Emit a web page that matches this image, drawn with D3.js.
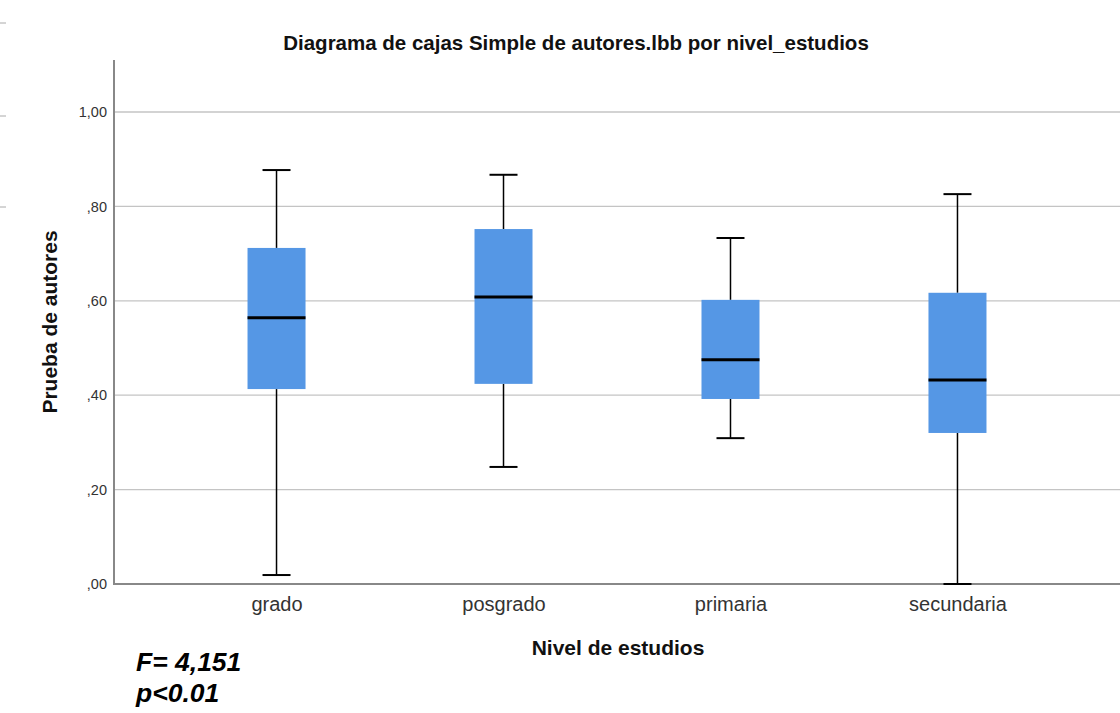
<!DOCTYPE html>
<html><head><meta charset="utf-8">
<script src="https://cdn.jsdelivr.net/npm/d3@7"></script>
<style>body{margin:0;background:#fff;}svg{display:block;font-family:"Liberation Sans",Arial,sans-serif;}</style>
</head><body>
<svg id="c" width="1120" height="713"></svg>
<script>
const categories = ["grado","posgrado","primaria","secundaria"];
const whiskerLow  = [0.019, 0.248, 0.309, 0.000];
const q1          = [0.413, 0.424, 0.392, 0.320];
const median      = [0.564, 0.608, 0.475, 0.432];
const q3          = [0.712, 0.752, 0.602, 0.617];
const whiskerHigh = [0.877, 0.867, 0.733, 0.826];
const yTicks = [0, 0.2, 0.4, 0.6, 0.8, 1.0];
const yTickLabels = [",00", ",20", ",40", ",60", ",80", "1,00"];

const svg = d3.select("#c");
const x0 = 114, x1 = 1120, yTop = 60, yBot = 584;
const y = d3.scaleLinear().domain([0, 1]).range([584, 112]);
const x = d3.scalePoint().domain(categories).range([x0, x1]).padding(0.716);

// stray left marks
[23,116,207].forEach(v => svg.append("line").attr("x1",0).attr("x2",6).attr("y1",v).attr("y2",v).attr("stroke","#aaa").attr("stroke-width",1));

// gridlines
svg.append("g").selectAll("line").data(yTicks.filter(d => d > 0)).join("line")
  .attr("x1", x0).attr("x2", x1).attr("y1", d => y(d)).attr("y2", d => y(d))
  .attr("stroke", "#c4c4c4").attr("stroke-width", 1.3);

// y axis
const yAxis = d3.axisLeft(y).tickValues(yTicks).tickFormat((d,i) => yTickLabels[i]).tickSize(0).tickPadding(7);
const gy = svg.append("g").attr("transform", `translate(${x0},0)`).call(yAxis);
gy.select(".domain").remove();
gy.selectAll("text").attr("font-size", 14.5).attr("fill", "#333").attr("font-family","\"Liberation Sans\",Arial,sans-serif");
svg.append("line").attr("x1", x0).attr("x2", x0).attr("y1", yTop).attr("y2", yBot).attr("stroke", "#888").attr("stroke-width", 2);

// x axis
const xAxis = d3.axisBottom(x).tickSize(0).tickPadding(13);
const gx = svg.append("g").attr("transform", `translate(0,${yBot})`).call(xAxis);
gx.select(".domain").remove();
gx.selectAll("text").attr("font-size", 20).attr("fill", "#333").attr("font-family","\"Liberation Sans\",Arial,sans-serif");
svg.append("line").attr("x1", x0 - 1).attr("x2", x1).attr("y1", yBot).attr("y2", yBot).attr("stroke", "#888").attr("stroke-width", 2);

// boxes
const boxW = 58, capW = 28;
const g = svg.append("g");
categories.forEach((c, i) => {
  const cx = x(c);
  g.append("line").attr("x1", cx).attr("x2", cx).attr("y1", y(whiskerHigh[i])).attr("y2", y(q3[i])).attr("stroke", "#000").attr("stroke-width", 1.5);
  g.append("line").attr("x1", cx).attr("x2", cx).attr("y1", y(q1[i])).attr("y2", y(whiskerLow[i])).attr("stroke", "#000").attr("stroke-width", 1.5);
  g.append("line").attr("x1", cx - capW/2).attr("x2", cx + capW/2).attr("y1", y(whiskerHigh[i])).attr("y2", y(whiskerHigh[i])).attr("stroke", "#000").attr("stroke-width", 2);
  g.append("line").attr("x1", cx - capW/2).attr("x2", cx + capW/2).attr("y1", y(whiskerLow[i])).attr("y2", y(whiskerLow[i])).attr("stroke", "#000").attr("stroke-width", 2);
  g.append("rect").attr("x", cx - boxW/2).attr("width", boxW).attr("y", y(q3[i])).attr("height", y(q1[i]) - y(q3[i])).attr("fill", "#5597e5");
  g.append("line").attr("x1", cx - boxW/2).attr("x2", cx + boxW/2).attr("y1", y(median[i])).attr("y2", y(median[i])).attr("stroke", "#000").attr("stroke-width", 3);
});

// titles
svg.append("text").attr("x", 576).attr("y", 50).attr("text-anchor", "middle").attr("font-size", 20.5).attr("font-weight", "bold").attr("fill", "#111")
  .text("Diagrama de cajas Simple de autores.lbb por nivel_estudios");
svg.append("text").attr("transform", "translate(57,322) rotate(-90)").attr("text-anchor", "middle").attr("font-size", 21).attr("font-weight", "bold").attr("fill", "#111")
  .text("Prueba de autores");
svg.append("text").attr("x", 618).attr("y", 655).attr("text-anchor", "middle").attr("font-size", 21).attr("font-weight", "bold").attr("fill", "#111")
  .text("Nivel de estudios");
svg.append("text").attr("x", 136).attr("y", 671).attr("font-size", 26.5).attr("font-weight", "bold").attr("font-style", "italic").attr("fill", "#000").text("F= 4,151");
svg.append("text").attr("x", 136).attr("y", 702).attr("font-size", 26.5).attr("font-weight", "bold").attr("font-style", "italic").attr("fill", "#000").text("p<0.01");
</script>
</body></html>
